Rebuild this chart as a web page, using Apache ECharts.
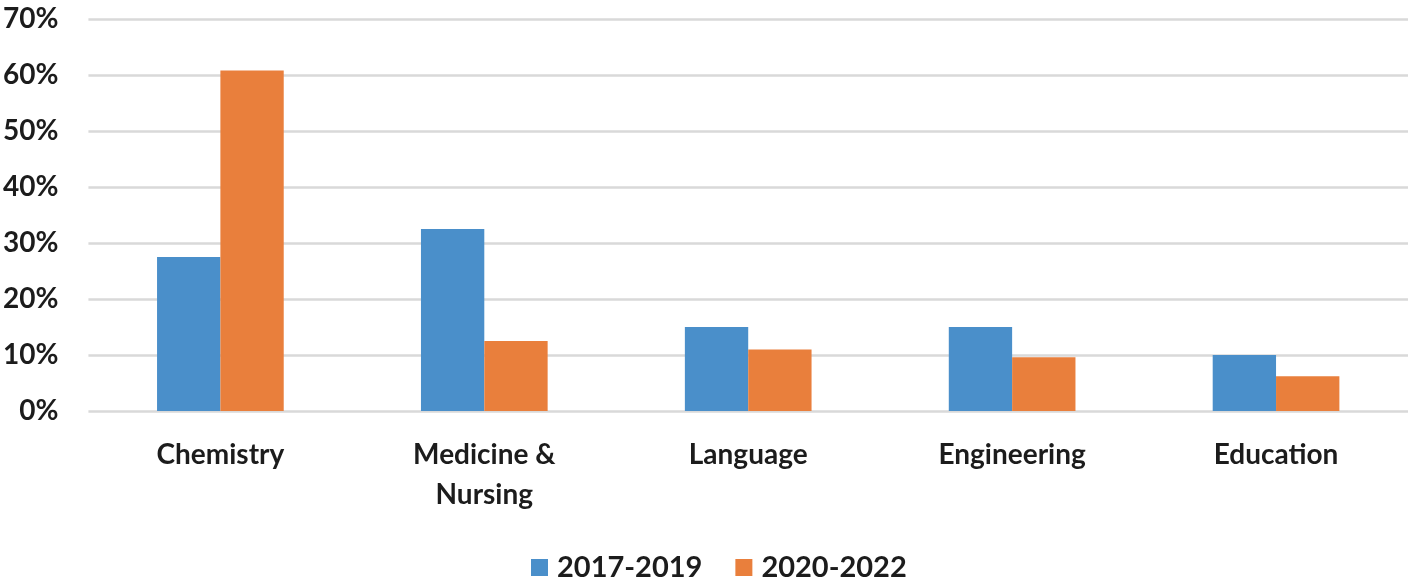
<!DOCTYPE html>
<html lang="en">
<head>
    <meta charset="UTF-8">
    <title>Share by field</title>
    <script src="https://cdn.jsdelivr.net/npm/echarts@6/dist/echarts.min.js"></script>
    <style>
        * { margin: 0; padding: 0; }
        html, body { background: #fff; }
        #chart-container { width: 1408px; height: 587px; }
    </style>
</head>
<body>
    <div id="chart-container"></div>

    <script>
        const categories = ['Chemistry', 'Medicine &\nNursing', 'Language', 'Engineering', 'Education'];
        const seriesNames = ['2017-2019', '2020-2022'];
        const values2017 = [27.5, 32.5, 15.0, 15.0, 10.0];
        const values2020 = [60.8, 12.5, 11.0, 9.6, 6.2];
        const colors = ['#4A8FCA', '#E97F3C'];

        const font = 'Lato, "Open Sans", sans-serif';
        const textColor = '#1c1c1c';

        const chart = echarts.init(document.getElementById('chart-container'), null, { renderer: 'canvas' });

        chart.setOption({
            animation: false,
            grid: { left: 87, right: 0, top: 19, bottom: 176, containLabel: false },
            legend: {
                data: seriesNames,
                bottom: 0,
                left: 526,
                itemWidth: 17,
                itemHeight: 17,
                itemGap: 33,
                icon: 'rect',
                textStyle: { fontFamily: font, fontSize: 29, fontWeight: 'bold', color: textColor, padding: [0, 0, 0, 4] }
            },
            xAxis: {
                type: 'category',
                data: categories,
                axisLine: { show: false },
                axisTick: { show: false },
                axisLabel: {
                    margin: 24,
                    fontFamily: font,
                    fontSize: 28,
                    fontWeight: 'bold',
                    lineHeight: 40,
                    color: textColor,
                    interval: 0
                }
            },
            yAxis: {
                type: 'value',
                min: 0,
                max: 70,
                interval: 10,
                axisLine: { show: false },
                axisTick: { show: false },
                splitLine: { lineStyle: { color: '#D9D9D9', width: 2.5 } },
                axisLabel: {
                    margin: 30,
                    fontFamily: font,
                    fontSize: 28,
                    fontWeight: 'bold',
                    color: textColor,
                    formatter: '{value}%'
                }
            },
            series: [
                {
                    name: seriesNames[0],
                    type: 'bar',
                    data: values2017,
                    barGap: '0%',
                    barCategoryGap: '52%',
                    itemStyle: { color: colors[0] }
                },
                {
                    name: seriesNames[1],
                    type: 'bar',
                    data: values2020,
                    barGap: '0%',
                    barCategoryGap: '52%',
                    itemStyle: { color: colors[1] }
                }
            ]
        });
    </script>
</body>
</html>
